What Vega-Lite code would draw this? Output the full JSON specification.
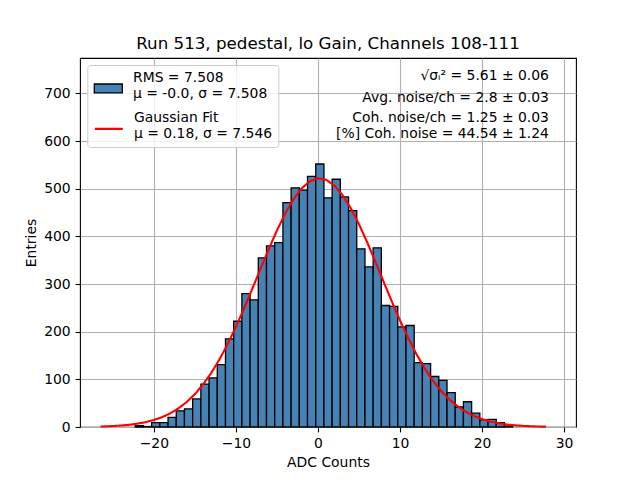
{
  "$schema": "https://vega.github.io/schema/vega-lite/v6.json",
  "autosize": {"type": "none"},
  "width": 496,
  "height": 369,
  "padding": {"left": 80, "top": 58, "right": 64, "bottom": 53},
  "title": {
    "text": "Run 513, pedestal, lo Gain, Channels 108-111",
    "font": "DejaVu Sans",
    "fontSize": 16.7,
    "fontWeight": "normal",
    "color": "black",
    "baseline": "alphabetic",
    "offset": -8
  },
  "datasets": {
    "hist": [
      {"start": -22.27, "end": -21.27, "count": 3},
      {"start": -21.27, "end": -20.27, "count": 1},
      {"start": -20.27, "end": -19.27, "count": 9},
      {"start": -19.27, "end": -18.27, "count": 9},
      {"start": -18.27, "end": -17.27, "count": 20},
      {"start": -17.27, "end": -16.27, "count": 34},
      {"start": -16.27, "end": -15.27, "count": 38},
      {"start": -15.27, "end": -14.27, "count": 59},
      {"start": -14.27, "end": -13.27, "count": 90},
      {"start": -13.27, "end": -12.27, "count": 103},
      {"start": -12.27, "end": -11.27, "count": 131},
      {"start": -11.27, "end": -10.27, "count": 185},
      {"start": -10.27, "end": -9.27, "count": 222},
      {"start": -9.27, "end": -8.27, "count": 280},
      {"start": -8.27, "end": -7.27, "count": 267},
      {"start": -7.27, "end": -6.27, "count": 355},
      {"start": -6.27, "end": -5.27, "count": 380},
      {"start": -5.27, "end": -4.27, "count": 387},
      {"start": -4.27, "end": -3.27, "count": 471},
      {"start": -3.27, "end": -2.27, "count": 502},
      {"start": -2.27, "end": -1.27, "count": 497},
      {"start": -1.27, "end": -0.27, "count": 526},
      {"start": -0.27, "end": 0.73, "count": 552},
      {"start": 0.73, "end": 1.73, "count": 481},
      {"start": 1.73, "end": 2.73, "count": 520},
      {"start": 2.73, "end": 3.73, "count": 483},
      {"start": 3.73, "end": 4.73, "count": 454},
      {"start": 4.73, "end": 5.73, "count": 374},
      {"start": 5.73, "end": 6.73, "count": 336},
      {"start": 6.73, "end": 7.73, "count": 376},
      {"start": 7.73, "end": 8.73, "count": 255},
      {"start": 8.73, "end": 9.73, "count": 253},
      {"start": 9.73, "end": 10.73, "count": 210},
      {"start": 10.73, "end": 11.73, "count": 213},
      {"start": 11.73, "end": 12.73, "count": 135},
      {"start": 12.73, "end": 13.73, "count": 133},
      {"start": 13.73, "end": 14.73, "count": 106},
      {"start": 14.73, "end": 15.73, "count": 98},
      {"start": 15.73, "end": 16.73, "count": 72},
      {"start": 16.73, "end": 17.73, "count": 42},
      {"start": 17.73, "end": 18.73, "count": 53},
      {"start": 18.73, "end": 19.73, "count": 29},
      {"start": 19.73, "end": 20.73, "count": 15},
      {"start": 20.73, "end": 21.73, "count": 16},
      {"start": 21.73, "end": 22.73, "count": 9},
      {"start": 22.73, "end": 23.73, "count": 2}
    ],
    "fit": [
      {"adc": -26.5, "entries": 1.0},
      {"adc": -26, "entries": 1.27},
      {"adc": -25, "entries": 1.99},
      {"adc": -24, "entries": 3.08},
      {"adc": -23, "entries": 4.66},
      {"adc": -22, "entries": 6.94},
      {"adc": -21, "entries": 10.16},
      {"adc": -20, "entries": 14.62},
      {"adc": -19, "entries": 20.65},
      {"adc": -18, "entries": 28.67},
      {"adc": -17, "entries": 39.1},
      {"adc": -16, "entries": 52.4},
      {"adc": -15, "entries": 69.01},
      {"adc": -14, "entries": 89.31},
      {"adc": -13, "entries": 113.56},
      {"adc": -12, "entries": 141.9},
      {"adc": -11, "entries": 174.2},
      {"adc": -10, "entries": 210.12},
      {"adc": -9, "entries": 249.05},
      {"adc": -8, "entries": 290.07},
      {"adc": -7, "entries": 331.96},
      {"adc": -6, "entries": 373.27},
      {"adc": -5, "entries": 412.42},
      {"adc": -4, "entries": 447.76},
      {"adc": -3, "entries": 477.65},
      {"adc": -2, "entries": 500.67},
      {"adc": -1, "entries": 515.66},
      {"adc": 0, "entries": 521.85},
      {"adc": 1, "entries": 518.93},
      {"adc": 2, "entries": 507.03},
      {"adc": 3, "entries": 486.79},
      {"adc": 4, "entries": 459.22},
      {"adc": 5, "entries": 425.67},
      {"adc": 6, "entries": 387.7},
      {"adc": 7, "entries": 346.97},
      {"adc": 8, "entries": 305.11},
      {"adc": 9, "entries": 263.64},
      {"adc": 10, "entries": 223.82},
      {"adc": 11, "entries": 186.75},
      {"adc": 12, "entries": 153.07},
      {"adc": 13, "entries": 123.3},
      {"adc": 14, "entries": 97.57},
      {"adc": 15, "entries": 75.89},
      {"adc": 16, "entries": 57.98},
      {"adc": 17, "entries": 43.52},
      {"adc": 18, "entries": 32.12},
      {"adc": 19, "entries": 23.27},
      {"adc": 20, "entries": 16.58},
      {"adc": 21, "entries": 11.6},
      {"adc": 22, "entries": 7.98},
      {"adc": 23, "entries": 5.39},
      {"adc": 24, "entries": 3.58},
      {"adc": 25, "entries": 2.34},
      {"adc": 26, "entries": 1.5},
      {"adc": 27, "entries": 0.94},
      {"adc": 27.8, "entries": 0.64}
    ],
    "one": [{}]
  },
  "layer": [
    {
      "data": {"name": "hist"},
      "mark": {"type": "bar", "stroke": "black", "strokeWidth": 1.3, "opacity": 1},
      "encoding": {
        "x": {
          "field": "start",
          "type": "quantitative",
          "title": "ADC Counts",
          "scale": {"domain": [-29.0, 31.45], "nice": false, "zero": false},
          "axis": {"values": [-20, -10, 0, 10, 20, 30]}
        },
        "x2": {"field": "end"},
        "y": {
          "field": "count",
          "type": "quantitative",
          "title": "Entries",
          "scale": {"domain": [0, 774.5], "nice": false},
          "axis": {"values": [0, 100, 200, 300, 400, 500, 600, 700]}
        },
        "y2": {"datum": 0},
        "color": {
          "datum": "RMS = 7.508\nμ = -0.0, σ = 7.508",
          "scale": {"domain": ["RMS = 7.508\nμ = -0.0, σ = 7.508"], "range": ["#4682b4"]},
          "legend": {
            "title": null,
            "orient": "none",
            "legendX": 13.3,
            "legendY": 4.7,
            "padding": 0,
            "zindex": 3,
            "symbolType": "M-1,0.45H1V1.09H-1Z",
            "symbolSize": 784,
            "symbolStrokeColor": "black",
            "symbolStrokeWidth": 1.3,
            "symbolOpacity": 1,
            "labelFont": "DejaVu Sans",
            "labelFontSize": 13.9,
            "labelColor": "black",
            "labelBaseline": "middle",
            "labelLimit": 0,
            "labelOffset": 9.7,
            "labelExpr": "split(datum.label, '\\n')"
          }
        }
      }
    },
    {
      "data": {"name": "fit"},
      "mark": {"type": "line", "color": "red", "strokeWidth": 2.1},
      "encoding": {
        "x": {"field": "adc", "type": "quantitative"},
        "y": {"field": "entries", "type": "quantitative"},
        "strokeDash": {
          "datum": "Gaussian Fit\nμ = 0.18, σ = 7.546",
          "scale": {"domain": ["Gaussian Fit\nμ = 0.18, σ = 7.546"], "range": [[1, 0]]},
          "legend": {
            "title": [" ", " "],
            "titleFontSize": 13.9,
            "titleLineHeight": 16.5,
            "titlePadding": 1.3,
            "orient": "none",
            "legendX": 7.3,
            "legendY": 7,
            "padding": 6,
            "zindex": 2,
            "fillColor": "rgba(255,255,255,0.8)",
            "strokeColor": "#cccccc",
            "cornerRadius": 3,
            "symbolType": "M-1,0.76H1",
            "symbolSize": 784,
            "symbolStrokeColor": "red",
            "symbolStrokeWidth": 2.1,
            "symbolOpacity": 1,
            "labelFont": "DejaVu Sans",
            "labelFontSize": 13.9,
            "labelColor": "black",
            "labelBaseline": "middle",
            "labelLimit": 0,
            "labelOffset": 9.7,
            "labelExpr": "split(datum.label, '\\n')"
          }
        }
      }
    },
    {
      "data": {"name": "one"},
      "mark": {"type": "text", "text": "√σᵢ² = 5.61 ± 0.06", "align": "right", "baseline": "middle", "fontSize": 13.9, "font": "DejaVu Sans", "color": "black"},
      "encoding": {"x": {"datum": 28.15}, "y": {"datum": 736}}
    },
    {
      "data": {"name": "one"},
      "mark": {"type": "text", "text": "Avg. noise/ch = 2.8 ± 0.03", "align": "right", "baseline": "middle", "fontSize": 13.9, "font": "DejaVu Sans", "color": "black"},
      "encoding": {"x": {"datum": 28.15}, "y": {"datum": 690.8}}
    },
    {
      "data": {"name": "one"},
      "mark": {"type": "text", "text": "Coh. noise/ch = 1.25 ± 0.03", "align": "right", "baseline": "middle", "fontSize": 13.9, "font": "DejaVu Sans", "color": "black"},
      "encoding": {"x": {"datum": 28.15}, "y": {"datum": 648.9}}
    },
    {
      "data": {"name": "one"},
      "mark": {"type": "text", "text": "[%] Coh. noise = 44.54 ± 1.24", "align": "right", "baseline": "middle", "fontSize": 13.9, "font": "DejaVu Sans", "color": "black"},
      "encoding": {"x": {"datum": 28.15}, "y": {"datum": 614}}
    }
  ],
  "config": {
    "font": "DejaVu Sans",
    "view": {"stroke": "black", "strokeWidth": 1.1},
    "axis": {
      "labelFont": "DejaVu Sans",
      "labelFontSize": 13.9,
      "labelColor": "black",
      "titleFont": "DejaVu Sans",
      "titleFontSize": 13.9,
      "titleFontWeight": "normal",
      "titleColor": "black",
      "tickColor": "black",
      "tickWidth": 1.1,
      "tickSize": 4.9,
      "labelPadding": 4.9,
      "titlePadding": 5,
      "domain": false,
      "grid": true,
      "gridColor": "#b0b0b0",
      "gridWidth": 1.1,
      "gridOpacity": 1,
      "zindex": 1
    }
  }
}
